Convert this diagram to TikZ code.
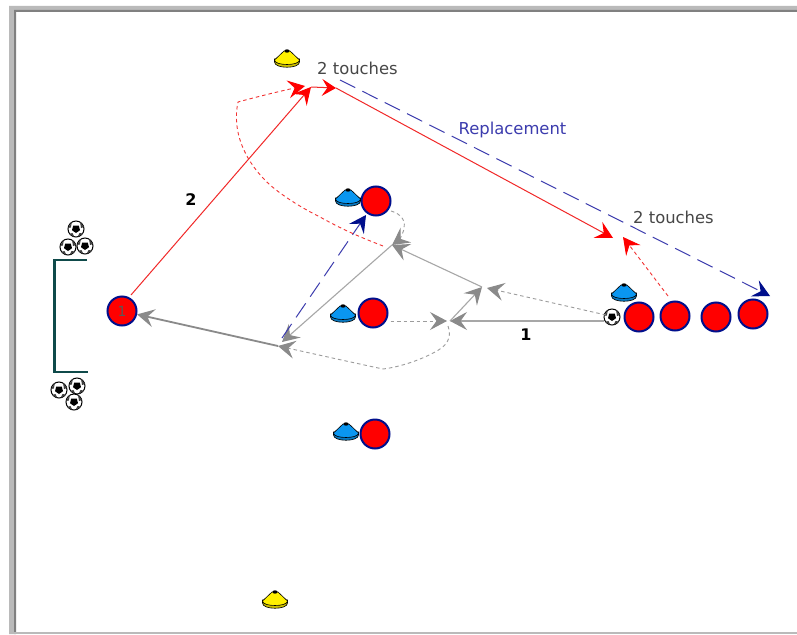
\documentclass[tikz,border=0pt]{standalone}
\usepackage{fontspec}
\setmainfont{DejaVu Sans}
\usetikzlibrary{arrows.meta}
\definecolor{plred}{HTML}{FF0000}
\definecolor{plblue}{HTML}{000F8C}
\definecolor{gr}{HTML}{8A8A8A}
\definecolor{dkred}{HTML}{F01010}
\definecolor{lnblue}{HTML}{1A1AA0}
\definecolor{goalc}{HTML}{0F4A4A}
\definecolor{coneblue}{HTML}{0A96F0}
\definecolor{coneyel}{HTML}{FFF000}
\tikzset{
 player/.style={circle,draw=plblue,fill=plred,line width=2pt,minimum size=29pt,inner sep=0pt,font=\fontsize{14}{14}\selectfont\color{black!65}},
 tip/.style={-{Stealth[length=17pt,width=18pt,inset=6.5pt,color=gr]}},
 redtip/.style={-{Stealth[length=17pt,width=18pt,inset=6.5pt,color=plred]}},
 smalltip/.style={-{Stealth[length=14pt,width=17pt,inset=5.5pt,color=plred]}},
 bluetip/.style={-{Stealth[length=17pt,width=18pt,inset=6.5pt,color=plblue]}},
 grsolid/.style={gr!75,line width=1.1pt},
 grthick/.style={gr,line width=1.8pt,tip},
 grdash/.style={gr!85,line width=.9pt,dash pattern=on 3.5pt off 3pt},
 reddash/.style={dkred!85,line width=.9pt,dash pattern=on 3.5pt off 3pt},
 redline/.style={dkred!90,line width=1pt},
 bluedash/.style={lnblue!85,line width=1pt,dash pattern=on 17pt off 8pt},
 lab/.style={inner sep=0pt,font=\fontsize{16.4}{18}\selectfont,text=black!72},
 numlab/.style={inner sep=0pt,font=\fontsize{16}{17}\selectfont\bfseries},
 cone/.pic={
  \fill[#1!80!black,draw=black,line width=.6pt] (-12.5,2) .. controls (-12.5,9) and (12.5,9) .. (12.5,2) -- (12.5,-1) -- (-12.5,-1) -- cycle;
  \fill[#1,draw=black,line width=.6pt] (-12.5,0) -- (-3,-9) -- (3,-9) -- (12.5,0) .. controls (12.5,6) and (-12.5,6) .. (-12.5,0) -- cycle;
  \fill[black] (0,-9) ellipse[x radius=2.5,y radius=1.7];
 },
 ball/.pic={
  \fill[white,draw=black,line width=1pt] (0,0) circle[radius=8];
  \fill[black] (-2.8,-3.4) -- (2.8,-3.4) -- (4,1.2) -- (0,4) -- (-4,1.2) -- cycle;
  \fill[black!75] (8,-2) -- (4,-7.2) -- (5,-1) -- cycle;
  \fill[black!75] (-8,-1) -- (-4,-7.2) -- (-5.2,-1.5) -- cycle;
  \fill[black!75] (-6.6,5) -- (-1.5,8) -- (-3.6,4) -- cycle;
  \fill[black!75] (1.5,8) -- (7,4.6) -- (3.6,4) -- cycle;
 }
}
\begin{document}
\begin{tikzpicture}[x=1pt,y=-1pt]
\useasboundingbox (0,0) rectangle (797,634);
% frame
\fill[white] (0,0) rectangle (797,634);
\fill[black!27] (9,634) -- (9,6) -- (797,6) -- (797,10) -- (14,10) -- (14,634) -- cycle;
\fill[black!50] (14,634) -- (14,10) -- (797,10) -- (797,12) -- (16,12) -- (16,634) -- cycle;
\fill[black!27] (14,632) rectangle (797,634);
% goal
\draw[goalc,line width=2.4pt,line join=miter] (87,260) -- (54.5,260) -- (54.5,372) -- (88,372);
% balls
\foreach \bx/\by in {76/229,68/247,85/246,59/390,77/386,74/402,612/317}{
 \pic at (\bx,\by) {ball};
}
% players
\node[player] (gk) at (122,311) {1};
\node[player] (ptop) at (376,201) {};
\node[player] (pmid) at (373,313) {};
\node[player] (plow) at (375,434) {};
\node[player] (r1) at (639,317) {};
\node[player] (r2) at (675,316) {};
\node[player] (r3) at (716,317) {};
\node[player] (r4) at (753,314) {};
% cones
\pic at (348,199) {cone=coneblue};
\pic at (343,315) {cone=coneblue};
\pic at (346,433) {cone=coneblue};
\pic at (624,294) {cone=coneblue};
\pic at (287,60) {cone=coneyel};
\pic at (275,601) {cone=coneyel};
% waypoints
\coordinate (ballr) at (604,321);
\coordinate (a) at (450,321);
\coordinate (a2) at (447,321);
\coordinate (b) at (482,287);
\coordinate (b2) at (487,288);
\coordinate (c) at (392,245);
\coordinate (d) at (282,342);
\coordinate (d2) at (278,346);
\coordinate (e) at (366,215);
\coordinate (f) at (311,87);
\coordinate (f2) at (336,88);
\coordinate (g) at (613,238);
\coordinate (h) at (623,237);
\coordinate (i) at (770,296);
\coordinate (j) at (340,80);
\coordinate (k) at (305,86);
\coordinate (ballstart) at (606,315);
\coordinate (redstart) at (668,296);
% grey connectors
\draw[grsolid,tip] (ballr) -- (a);
\draw[grdash,tip] (pmid.east) ++(2,8) -- (a2);
\draw[grsolid,tip] (a) -- (b);
\draw[grdash,tip] (ballstart) -- (b2);
\draw[grsolid,tip] (b) -- (c);
\draw[grsolid,tip] (c) -- (d);
\draw[grdash,tip] (391,211) .. controls (402,214) and (406,222) .. (404,229) .. controls (402,236) and (399,240) .. (c);
\draw[grdash,tip] (448,326) .. controls (452,337) and (448,346) .. (433,353) .. controls (420,360) and (400,367) .. (383,369) .. controls (350,362) and (310,353) .. (d2);
\draw[grthick] (d2) -- (gk);
% blue
\draw[bluedash,bluetip] (282,338) -- (e);
\draw[bluedash,bluetip] (j) -- (i);
% red
\draw[redline,redtip] (gk) ++(9,-16) -- (f);
\draw[reddash,redtip] (383,246) .. controls (365,239) and (345,231) .. (320,217) .. controls (300,207) and (283,196) .. (270,185) .. controls (243,160) and (232,130) .. (238,102) .. controls (260,96) and (285,90) .. (k);
\draw[redline,smalltip] (f) -- (f2);
\draw[redline,redtip] (f2) -- (g);
\draw[reddash,redtip] (redstart) -- (h);
% labels
\node[lab] (t1) at (357.5,68) {2 touches};
\node[lab] (t2) at (673.5,217) {2 touches};
\node[lab,text=lnblue!85] (t3) at (512.5,129.5) {Replacement};
\node[numlab] (n1) at (526,335) {1};
\node[numlab] (n2) at (191,200) {2};
\end{tikzpicture}
\end{document}
